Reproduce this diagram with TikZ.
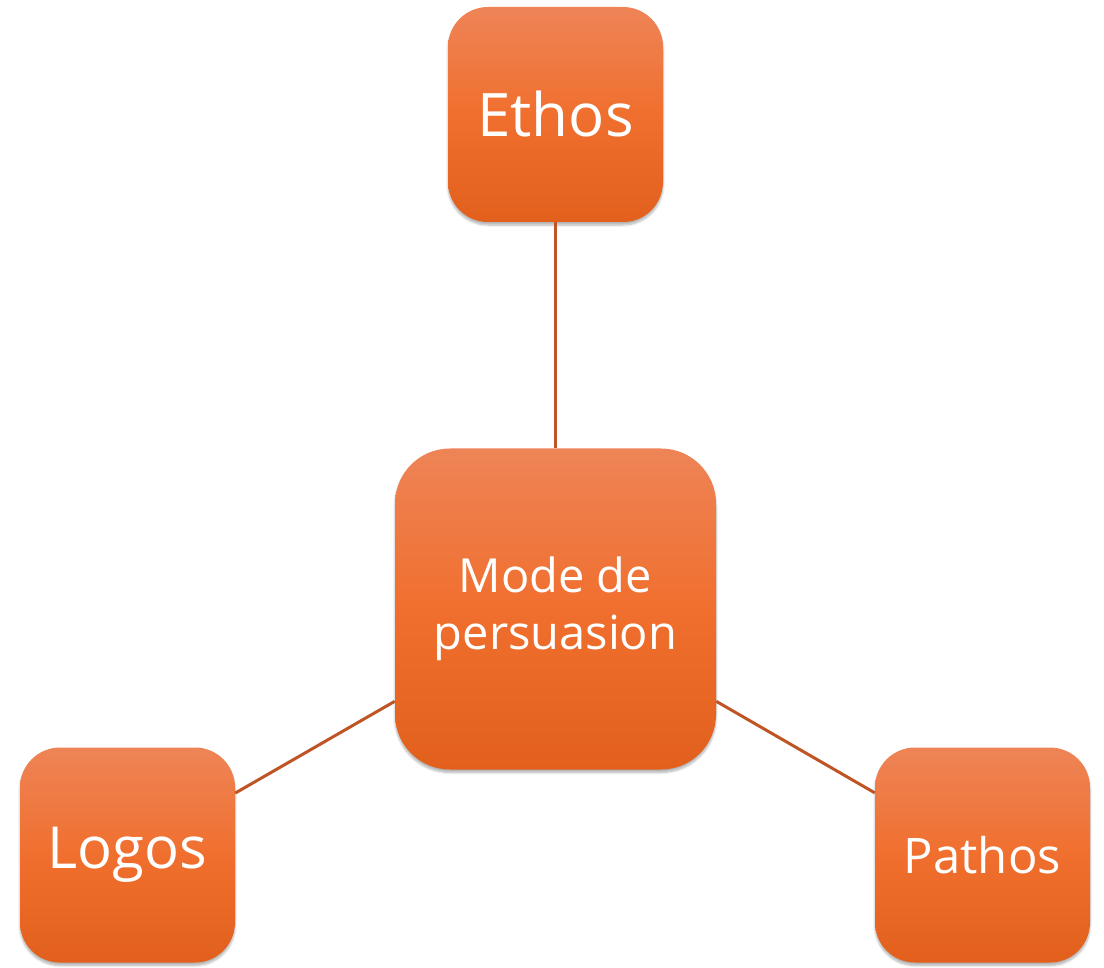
\documentclass[tikz,border=0pt]{standalone}
\usepackage{fontspec}
\setmainfont{Open Sans}
\usetikzlibrary{shadows.blur}
\definecolor{boxtop}{HTML}{EE8457}
\definecolor{boxmid}{HTML}{F06F2E}
\definecolor{boxbot}{HTML}{E2601C}
\definecolor{linkc}{HTML}{BF5425}
\tikzset{
  box/.style={rectangle, rounded corners=40pt, minimum width=215pt, minimum height=215pt,
    top color=boxtop, bottom color=boxbot, middle color=boxmid, draw=none,
    text=white, align=center, inner sep=0pt,
    blur shadow={shadow xshift=0pt, shadow yshift=-3pt, shadow blur steps=6, shadow opacity=30}},
  bigbox/.style={box, rounded corners=55pt, minimum width=321pt, minimum height=321pt},
  link/.style={draw=linkc, line width=3pt}
}
\begin{document}
\begin{tikzpicture}[x=1pt,y=-1pt]
\useasboundingbox (0,0) rectangle (1104,968);
\node[bigbox, font=\fontsize{47}{57}\selectfont] (mode) at (555.5,609) {Mode de\\persuasion};
\node[box, font=\fontsize{60}{66}\selectfont] (ethos) at (555.5,114.5) {Ethos};
\node[box, font=\fontsize{58}{66}\selectfont] (logos) at (127.5,855) {Logos};
\node[box, font=\fontsize{49}{58}\selectfont] (pathos) at (982.5,855) {Pathos};
\draw[link] (ethos) -- (mode);
\draw[link] (logos) -- (mode);
\draw[link] (pathos) -- (mode);
\end{tikzpicture}
\end{document}
